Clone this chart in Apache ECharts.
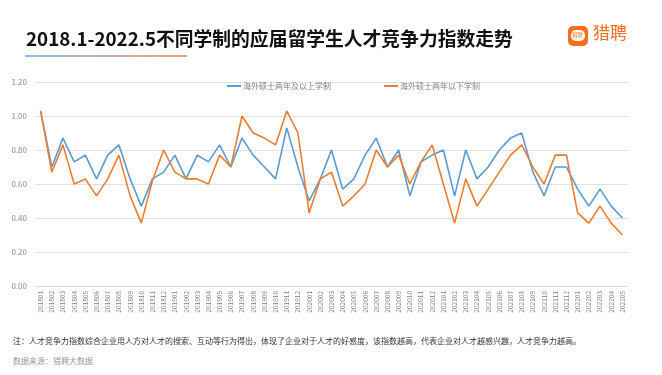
<!DOCTYPE html>
<html>
<head>
<meta charset="utf-8">
<script src="https://cdn.jsdelivr.net/npm/echarts@6/dist/echarts.min.js"></script>
<style>
  html, body { margin: 0; padding: 0; background: #fff; }
  #chart { width: 662px; height: 375px; }
</style>
</head>
<body>
<div id="chart"></div>
<script>
  var months = ['201801', '201802', '201803', '201804', '201805', '201806', '201807', '201808', '201809', '201810', '201811', '201812',
    '201901', '201902', '201903', '201904', '201905', '201906', '201907', '201908', '201909', '201910', '201911', '201912',
    '202001', '202002', '202003', '202004', '202005', '202006', '202007', '202008', '202009', '202010', '202011', '202012',
    '202101', '202102', '202103', '202104', '202105', '202106', '202107', '202108', '202109', '202110', '202111', '202112',
    '202201', '202202', '202203', '202204', '202205'];

  // 海外硕士两年及以上学制
  var longProgram = [1.03, 0.70, 0.87, 0.73, 0.77, 0.63, 0.77, 0.83, 0.63, 0.47, 0.63, 0.67,
    0.77, 0.63, 0.77, 0.73, 0.83, 0.70, 0.87, 0.77, 0.70, 0.63, 0.93, 0.70,
    0.50, 0.63, 0.80, 0.57, 0.63, 0.77, 0.87, 0.70, 0.80, 0.53, 0.73, 0.77,
    0.80, 0.53, 0.80, 0.63, 0.70, 0.80, 0.87, 0.90, 0.67, 0.53, 0.70, 0.70,
    0.57, 0.47, 0.57, 0.47, 0.40];

  // 海外硕士两年以下学制
  var shortProgram = [1.03, 0.67, 0.83, 0.60, 0.63, 0.53, 0.63, 0.77, 0.53, 0.37, 0.62, 0.80,
    0.67, 0.63, 0.63, 0.60, 0.77, 0.70, 1.00, 0.90, 0.87, 0.83, 1.03, 0.90,
    0.43, 0.63, 0.67, 0.47, 0.53, 0.60, 0.80, 0.70, 0.77, 0.60, 0.73, 0.83,
    0.60, 0.37, 0.63, 0.47, 0.57, 0.67, 0.77, 0.83, 0.70, 0.60, 0.77, 0.77,
    0.43, 0.37, 0.47, 0.37, 0.30];

  var seriesNames = ['海外硕士两年及以上学制', '海外硕士两年以下学制'];

  var chart = echarts.init(document.getElementById('chart'));
  var font = '"Noto Sans CJK SC", "Noto Sans", sans-serif';

  var option = {
    backgroundColor: '#fff',
    textStyle: { fontFamily: font },
    color: ['#5b9bd5', '#ed7d31'],
    animation: false,
    title: {
      text: '2018.1-2022.5不同学制的应届留学生人才竞争力指数走势',
      left: 21,
      top: 24,
      textStyle: { fontSize: 18.8, fontWeight: 'bold', color: '#111', fontFamily: font }
    },
    legend: {
      data: seriesNames,
      left: 222,
      top: 77,
      icon: 'rect',
      itemWidth: 14,
      itemHeight: 2,
      itemGap: 53,
      textStyle: { fontSize: 8, color: '#7f7f7f', padding: [0, 0, 0, -3] }
    },
    grid: { left: 35, right: 34, top: 82, bottom: 89 },
    xAxis: {
      type: 'category',
      data: months,
      boundaryGap: true,
      axisLine: { lineStyle: { color: '#d9d9d9' } },
      axisTick: { show: false },
      axisLabel: { rotate: 90, interval: 0, fontSize: 6.5, color: '#7f7f7f', margin: 5 }
    },
    yAxis: {
      type: 'value',
      min: 0,
      max: 1.2,
      interval: 0.2,
      axisLine: { show: false },
      axisTick: { show: false },
      splitLine: { lineStyle: { color: '#e3e3e3' } },
      axisLabel: {
        fontSize: 8,
        color: '#8c8c8c',
        margin: 8,
        formatter: function (v) { return v.toFixed(2); }
      }
    },
    series: [
      { name: seriesNames[0], type: 'line', data: longProgram, symbol: 'none', lineStyle: { width: 1.6 } },
      { name: seriesNames[1], type: 'line', data: shortProgram, symbol: 'none', lineStyle: { width: 1.6 } }
    ],
    graphic: [
      {
        type: 'rect',
        shape: { x: 25, y: 55, width: 162, height: 2 },
        style: {
          fill: new echarts.graphic.LinearGradient(0, 0, 1, 0, [
            { offset: 0, color: '#8ec0ee' },
            { offset: 1, color: '#f7a072' }
          ])
        }
      },
      {
        type: 'rect',
        shape: { x: 568, y: 26, width: 20, height: 20, r: 5 },
        style: { fill: '#fa6e1e' }
      },
      {
        type: 'rect',
        shape: { x: 571, y: 30, width: 14, height: 11, r: 5 },
        style: { fill: '#fff' }
      },
      {
        type: 'text',
        left: 572,
        top: 32,
        style: { text: '猎聘', fontSize: 5.5, fill: '#fa6e1e', fontFamily: font }
      },
      {
        type: 'text',
        left: 593,
        top: 24,
        style: { text: '猎聘', fontSize: 17, fill: '#fa6e1e', fontFamily: font }
      },
      {
        type: 'text',
        left: 13,
        top: 337,
        style: {
          text: '注：人才竞争力指数综合企业用人方对人才的搜索、互动等行为得出，体现了企业对于人才的好感度，该指数越高，代表企业对人才越感兴趣，人才竞争力越高。',
          fontSize: 8, fill: '#333', fontFamily: font
        }
      },
      {
        type: 'text',
        left: 13,
        top: 357,
        style: { text: '数据来源：猎聘大数据', fontSize: 8, fill: '#999', fontFamily: font }
      }
    ]
  };

  chart.setOption(option);
</script>
</body>
</html>
